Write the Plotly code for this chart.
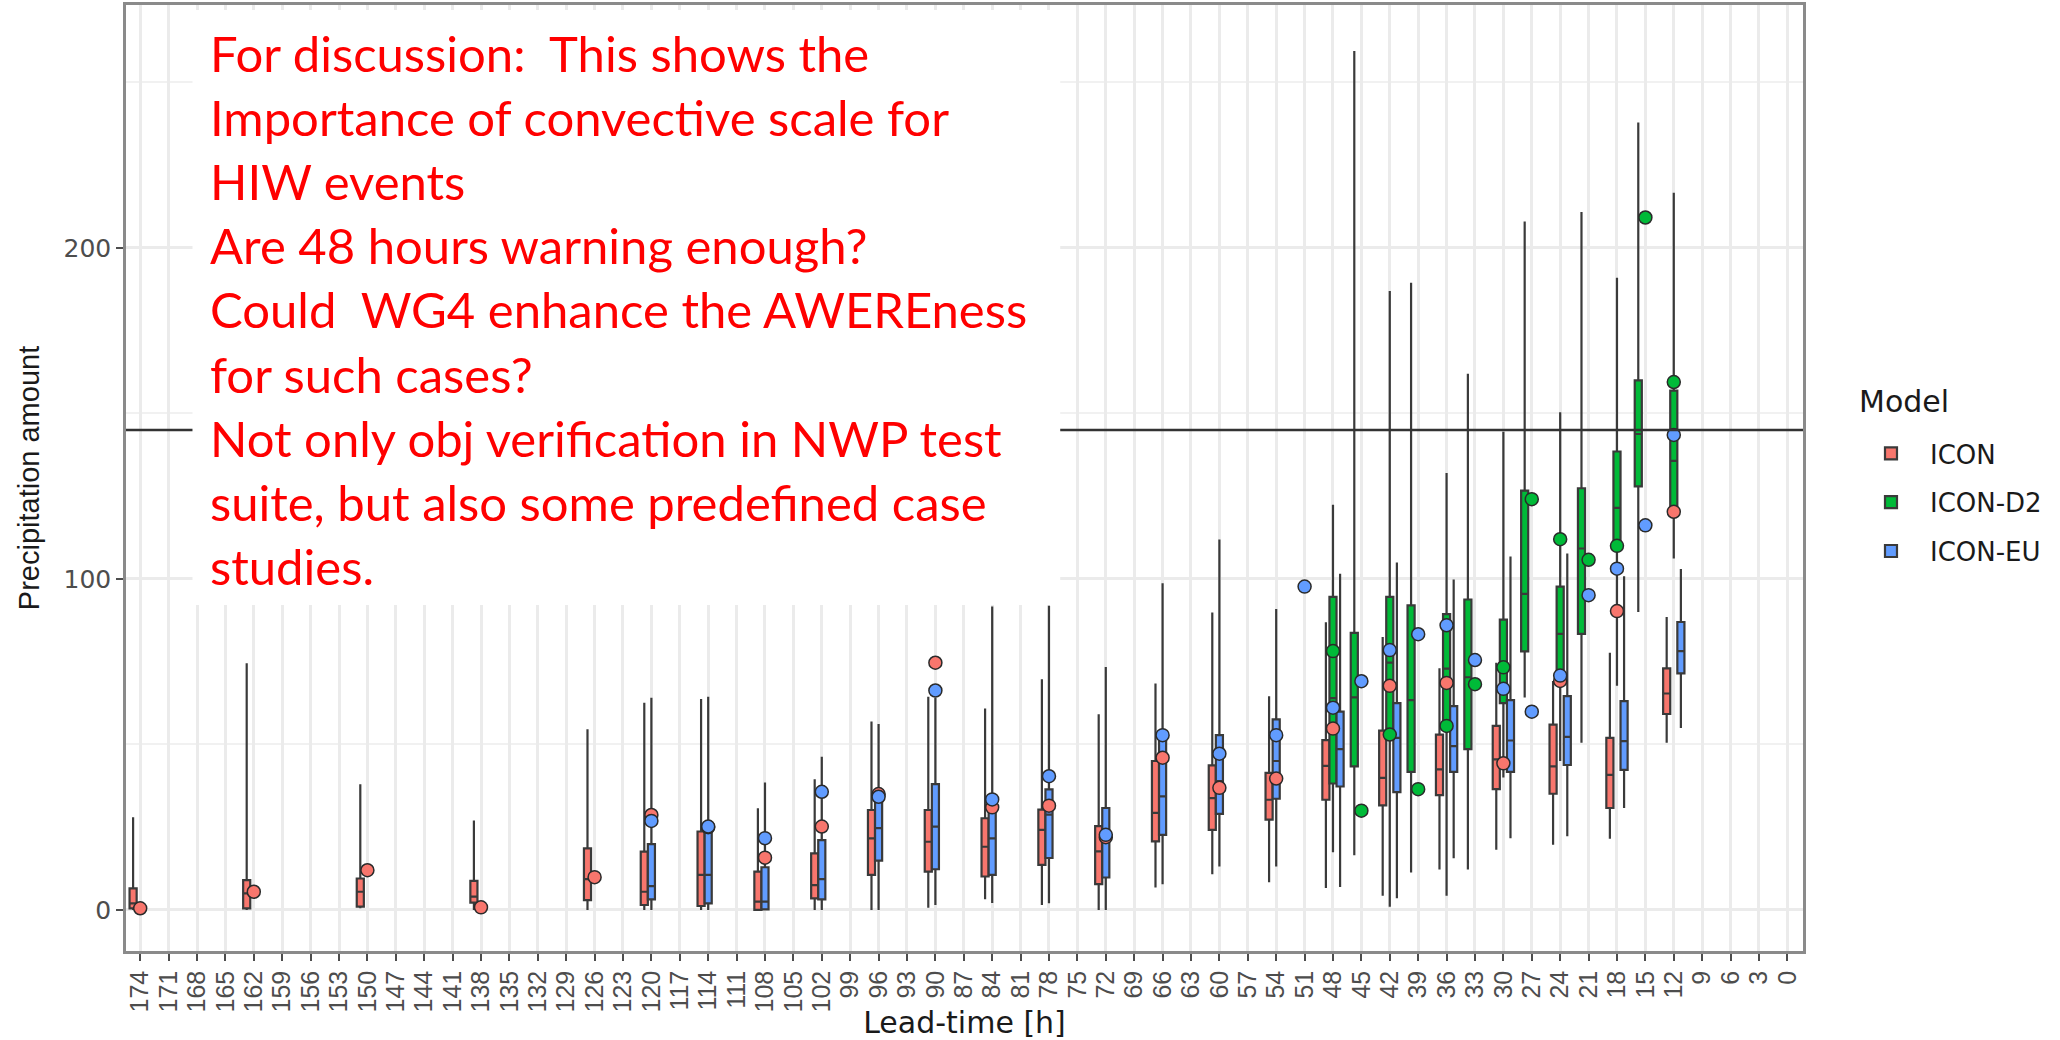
import plotly.graph_objects as go

# ---------------- data ----------------
LEAD_LABELS = ["174", "171", "168", "165", "162", "159", "156", "153", "150", "147",
               "144", "141", "138", "135", "132", "129", "126", "123", "120", "117",
               "114", "111", "108", "105", "102", "99", "96", "93", "90", "87",
               "84", "81", "78", "75", "72", "69", "66", "63", "60", "57",
               "54", "51", "48", "45", "42", "39", "36", "33", "30", "27",
               "24", "21", "18", "15", "12", "9", "6", "3", "0"]

MODELS = ["ICON", "ICON-D2", "ICON-EU"]

# box statistics per model (lead time [h] -> lower whisker, q1, median, q3, upper whisker)
ICON_LEAD = [174, 162, 150, 138, 126, 120, 114, 108, 102, 96, 90, 84, 78, 72, 66, 60, 54,
             48, 42, 36, 30, 24, 18, 12]
ICON_LOW = [0, 0, 0.5, 0, 0, 0, 0, 0, 0, 0, 0.7, 3.2, 1.5, 0, 6.8, 10.8, 8.4,
            6.6, 4.3, 12.2, 18.2, 19.7, 21.5, 50.5]
ICON_Q1 = [0.5, 0.5, 1, 2.2, 3, 1.5, 1.2, 0, 3.5, 10.6, 11.6, 10.1, 13.6, 7.8, 20.7, 24.2, 27.3,
           33.3, 31.6, 34.7, 36.5, 35.1, 30.8, 59.2]
ICON_MED = [2, 5, 5.5, 4, 9.3, 5.5, 10.6, 2.5, 7.5, 21.6, 20.6, 19.1, 24.2, 17.7, 29.3, 33.8, 33.3,
            43.5, 39.9, 42.5, 45.5, 43.4, 40.8, 65.4]
ICON_Q3 = [6.5, 9, 9.5, 8.8, 18.6, 17.6, 23.7, 11.6, 17.1, 30.2, 30.2, 27.7, 30.3, 25.3, 45, 43.7, 41.4,
           51.3, 54.2, 53, 55.6, 56, 52, 73]
ICON_HIGH = [28, 74.5, 38, 27, 54.6, 62.6, 63.7, 30.7, 39.5, 56.9, 64.4, 60.9, 69.7, 59.1, 68.4, 89.9, 64.6,
             86.9, 82.5, 73, 74.7, 69.2, 77.7, 88.5]

D2_LEAD = [48, 45, 42, 39, 36, 33, 30, 27, 24, 21, 18, 15, 12]
D2_LOW = [17.4, 16.5, 1, 11.3, 4.3, 12.2, 40, 64.2, 45, 50.5, 67.7, 90, 106.2]
D2_Q1 = [38.2, 43.4, 53, 41.7, 54.7, 48.6, 62.5, 78.1, 72.3, 83.4, 110.8, 128, 120]
D2_MED = [64, 64.2, 74.7, 63.4, 72.9, 70.3, 72.9, 95.5, 83.4, 109.2, 121.5, 143.8, 135.7]
D2_Q3 = [94.6, 83.7, 94.6, 92, 89.4, 93.8, 87.7, 126.7, 97.7, 127.4, 138.5, 160, 156.9]
D2_HIGH = [122.4, 259.5, 187, 189.5, 132, 162, 144.5, 208, 150.4, 210.9, 191, 237.9, 216.7]

EU_LEAD = [120, 114, 108, 102, 96, 90, 84, 78, 72, 66, 60, 54, 48, 42, 36, 30, 24, 18, 12]
EU_LOW = [0, 0, 0, 0, 0, 1.5, 2.1, 2, 0, 7.8, 13.1, 13.1, 6.9, 3.5, 15.6, 21.7, 22.3, 30.8, 55]
EU_Q1 = [3.2, 2, 0.2, 3.2, 14.9, 12.3, 10.6, 15.7, 9.8, 22.7, 29, 33.6, 37.3, 35.6, 41.7, 41.7, 43.8, 42.3, 71.5]
EU_MED = [7.2, 10.6, 2.5, 9.3, 24.7, 25.2, 21.6, 28.8, 22.7, 34.3, 38.9, 45, 48.6, 52, 49.5, 51.2, 52.3, 51, 78.2]
EU_Q3 = [19.9, 25.2, 12.9, 21.1, 33.7, 38, 31.7, 36.4, 30.8, 52, 52.8, 57.6, 59.9, 62.5, 61.6, 63.4, 64.6, 63.1, 87]
EU_HIGH = [64.1, 64.4, 38.5, 46.3, 56.2, 64.1, 91.7, 91.9, 73.4, 98.7, 111.9, 90.9, 101.6, 105, 99.8, 106.8,
           107.7, 100.8, 103]

# single points drawn at the centre of each lead time
ICON_DOT_LEAD = [174, 162, 150, 138, 126, 120, 114, 108, 102, 96, 90, 84, 78, 72, 66, 60, 54,
                 48, 42, 36, 30, 24, 18, 12]
ICON_DOT = [0.5, 5.5, 12, 0.8, 9.9, 28.7, 25, 15.8, 25.2, 35, 74.7, 31, 31.5, 22, 46, 36.9, 39.7,
            54.8, 67.7, 68.6, 44.3, 69.2, 90.3, 120.3]
D2_DOT_LEAD = [48, 45, 42, 39, 36, 33, 30, 27, 24, 21, 18, 15, 12]
D2_DOT = [78.2, 30, 53, 36.5, 55.6, 68.2, 73.3, 124.1, 112, 105.8, 110, 209.2, 159.5]
EU_DOT_LEAD = [120, 114, 108, 102, 96, 90, 84, 78, 72, 66, 60, 54, 51, 48, 45, 42, 39, 36, 33, 30,
               27, 24, 21, 18, 15, 12]
EU_DOT = [26.9, 25.2, 21.7, 35.7, 34.2, 66.3, 33.4, 40.4, 22.7, 52.8, 47.2, 52.8, 97.7, 61.1, 69.1,
          78.5, 83.3, 86, 75.5, 66.8, 59.9, 70.8, 95.1, 103.1, 116.2, 143.5]

THRESHOLD = 145

NOTE_LINES = [
    "For discussion:  This shows the",
    "Importance of convective scale for",
    "HIW events",
    "Are 48 hours warning enough?",
    "Could  WG4 enhance the AWEREness",
    "for such cases?",
    "Not only obj verification in NWP test",
    "suite, but also some predefined case",
    "studies.",
]

# ---------------- styling ----------------
FILL = {"ICON": "#F8766D", "ICON-D2": "#00BA38", "ICON-EU": "#619CFF"}
OUTLINE = "#3a3a3a"

W, H = 2060, 1040
ML, MR, MT, MB = 125.5, 257, 5, 89
PW, PH = W - ML - MR, H - MT - MB


def px_x(px):
    return (px - ML) / PW


def px_y(py):
    return 1 - (py - MT) / PH


boxes = {
    "ICON": (ICON_LEAD, ICON_LOW, ICON_Q1, ICON_MED, ICON_Q3, ICON_HIGH),
    "ICON-D2": (D2_LEAD, D2_LOW, D2_Q1, D2_MED, D2_Q3, D2_HIGH),
    "ICON-EU": (EU_LEAD, EU_LOW, EU_Q1, EU_MED, EU_Q3, EU_HIGH),
}
dots = {
    "ICON": (ICON_DOT_LEAD, ICON_DOT),
    "ICON-D2": (D2_DOT_LEAD, D2_DOT),
    "ICON-EU": (EU_DOT_LEAD, EU_DOT),
}

# dodge: boxes present at a lead time are packed from the left slot (ggplot preserve="single")
present = {}
for m in MODELS:
    for h in boxes[m][0]:
        present.setdefault(h, []).append(m)
SLOTS = ["L", "M", "R"]

fig = go.Figure()
shown = set()
for slot_i, slot in enumerate(SLOTS):
    for m in MODELS:
        lead, lo, q1, med, q3, hi = boxes[m]
        idx = [i for i, h in enumerate(lead) if present[h].index(m) == slot_i]
        if not idx:
            continue
        fig.add_trace(go.Box(
            name=m, legendgroup=m, showlegend=m not in shown,
            x=[str(lead[i]) for i in idx],
            lowerfence=[lo[i] for i in idx], q1=[q1[i] for i in idx],
            median=[med[i] for i in idx], q3=[q3[i] for i in idx],
            upperfence=[hi[i] for i in idx],
            offsetgroup=slot, alignmentgroup="all",
            fillcolor=FILL[m], line=dict(color=OUTLINE, width=2.2),
            boxpoints=False, whiskerwidth=0, hoverinfo="skip",
        ))
        shown.add(m)

for m in MODELS:
    lead, val = dots[m]
    fig.add_trace(go.Scatter(
        x=[str(h) for h in lead], y=val, mode="markers", name=m, legendgroup=m,
        showlegend=False,
        marker=dict(size=13, color=FILL[m], line=dict(color="#2a2a2a", width=1.5)),
        hoverinfo="skip",
    ))

fig.add_hline(y=THRESHOLD, line=dict(color="#333333", width=2.5), layer="above")

# white note box with red text
fig.add_shape(type="rect", xref="paper", yref="paper",
              x0=px_x(192), x1=px_x(1060), y0=px_y(605), y1=px_y(10),
              fillcolor="white", line=dict(width=0), layer="above")
for i, line in enumerate(NOTE_LINES):
    fig.add_annotation(
        xref="paper", yref="paper", x=px_x(209), y=px_y(52.7 + 64.2 * i),
        xanchor="left", yanchor="middle", showarrow=False, text=line,
        font=dict(family="Lato", size=49, color="#FF0000"), borderpad=0,
    )

# legend title
fig.add_annotation(
    xref="paper", yref="paper", x=px_x(1857), y=px_y(401), xanchor="left", yanchor="middle",
    showarrow=False, text="Model", font=dict(family="DejaVu Sans", size=30, color="#1a1a1a"),
)

fig.update_layout(
    width=W, height=H, autosize=False,
    margin=dict(l=ML, r=MR, t=MT, b=MB, autoexpand=False),
    paper_bgcolor="white", plot_bgcolor="white",
    boxmode="group", boxgap=0.25, boxgroupgap=0,
    font=dict(family="Liberation Sans", color="#1a1a1a"),
    legend=dict(
        x=px_x(1852), y=px_y(430), xanchor="left", yanchor="top",
        font=dict(family="DejaVu Sans", size=26, color="#1a1a1a"),
        traceorder="grouped", tracegroupgap=12, itemwidth=68,
        bgcolor="rgba(0,0,0,0)",
    ),
    xaxis=dict(
        type="category", categoryorder="array", categoryarray=LEAD_LABELS,
        tickmode="array", tickvals=LEAD_LABELS, ticktext=LEAD_LABELS,
        range=[-0.5, 58.55], tickangle=-90,
        tickfont=dict(family="Liberation Sans", size=25, color="#4D4D4D"),
        ticks="outside", ticklen=7, tickwidth=2, tickcolor="#4D4D4D",
        showgrid=True, gridcolor="#EBEBEB", gridwidth=2.5,
        showline=True, mirror=True, linecolor="#8a8a8a", linewidth=2.5,
        zeroline=False, automargin=False,
        title=dict(text="Lead-time [h]", standoff=8,
                   font=dict(family="DejaVu Sans", size=30, color="#1a1a1a")),
    ),
    yaxis=dict(
        range=[-12.4, 273.4], tickmode="linear", tick0=0, dtick=100,
        tickfont=dict(family="DejaVu Sans", size=25, color="#4D4D4D"),
        ticks="outside", ticklen=7, tickwidth=2, tickcolor="#4D4D4D",
        showgrid=True, gridcolor="#EBEBEB", gridwidth=2.5,
        minor=dict(dtick=50, tick0=0, showgrid=True, gridcolor="#F1F1F1", gridwidth=1.5),
        showline=True, mirror=True, linecolor="#8a8a8a", linewidth=2.5,
        zeroline=False, automargin=False,
        title=dict(text="Precipitation amount", standoff=16,
                   font=dict(family="Liberation Sans", size=29, color="#1a1a1a")),
    ),
)

fig.write_html("out.html")
